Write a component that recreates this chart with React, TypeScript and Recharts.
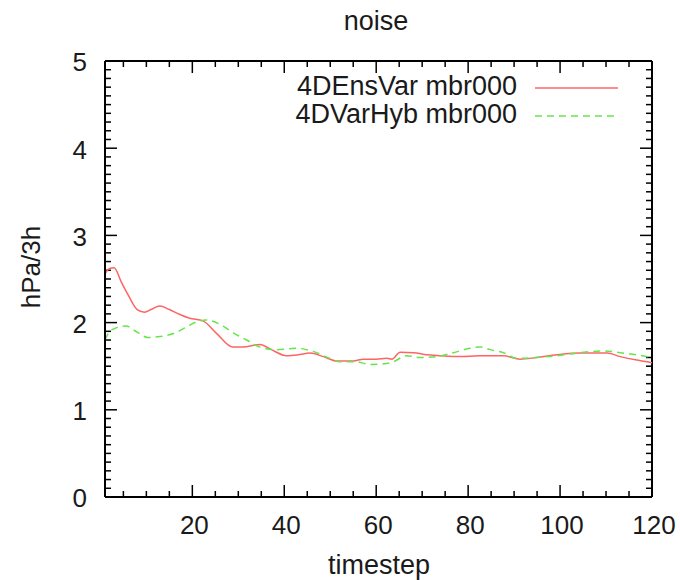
import React from "react";
import { LineChart, Line, XAxis, YAxis, ReferenceLine } from "recharts";

// 4DEnsVar mbr000 (red, solid)
const ensStep = [1, 2, 3, 4.5, 6, 8, 9.6, 11, 12.9, 15, 17, 19.4, 22.3, 25.2, 28.8, 31, 34.7, 37.2, 40.5, 43, 45.6, 48.5, 51.4, 55, 57.2, 60, 62.3, 63.4, 65.2, 68.1, 71, 73.9, 78, 82.6, 87.7, 91.3, 94.9, 99.3, 104.4, 110.2, 113.1, 116.7, 120];
const ensVal = [2.56, 2.62, 2.63, 2.47, 2.32, 2.15, 2.12, 2.15, 2.19, 2.15, 2.1, 2.05, 2.02, 1.88, 1.72, 1.72, 1.75, 1.69, 1.62, 1.63, 1.65, 1.61, 1.56, 1.56, 1.58, 1.58, 1.59, 1.58, 1.66, 1.655, 1.63, 1.62, 1.61, 1.62, 1.62, 1.58, 1.6, 1.63, 1.65, 1.65, 1.61, 1.57, 1.54];

// 4DVarHyb mbr000 (green, dashed)
const hybStep = [1, 2, 3, 5.6, 8, 10.3, 13, 15, 17, 19.4, 21, 23, 26.7, 29, 31.8, 34.7, 38.3, 42.6, 46.3, 49.9, 52.1, 55.7, 58.6, 62.3, 63.7, 66.6, 69.5, 73.2, 76.8, 80.4, 82.6, 84.8, 87.7, 90.6, 94.9, 99.3, 104.4, 109.5, 113.1, 116.7, 120];
const hybVal = [1.8, 1.9, 1.93, 1.96, 1.89, 1.83, 1.84, 1.86, 1.9, 1.97, 2.01, 2.03, 1.96, 1.88, 1.8, 1.72, 1.69, 1.705, 1.67, 1.59, 1.55, 1.55, 1.52, 1.53, 1.55, 1.62, 1.6, 1.61, 1.655, 1.705, 1.72, 1.69, 1.655, 1.59, 1.6, 1.62, 1.655, 1.675, 1.655, 1.63, 1.6];

const xMajor = [20, 40, 60, 80, 100, 120];
const xMinor = [5, 10, 15, 25, 30, 35, 45, 50, 55, 65, 70, 75, 85, 90, 95, 105, 110, 115];
const yMajor = [0, 1, 2, 3, 4, 5];
const yMinor = [0.1, 0.2, 0.3, 0.4, 0.5, 0.6, 0.7, 0.8, 0.9, 1.1, 1.2, 1.3, 1.4, 1.5, 1.6, 1.7, 1.8, 1.9, 2.1, 2.2, 2.3, 2.4, 2.5, 2.6, 2.7, 2.8, 2.9, 3.1, 3.2, 3.3, 3.4, 3.5, 3.6, 3.7, 3.8, 3.9, 4.1, 4.2, 4.3, 4.4, 4.5, 4.6, 4.7, 4.8, 4.9];

const ensData = ensStep.map((t, i) => ({ t, v: ensVal[i] }));
const hybData = hybStep.map((t, i) => ({ t, v: hybVal[i] }));

const X_DOMAIN = [1, 120];
const Y_DOMAIN = [0, 5];

const RED = "#ff6464";
const GREEN = "#66e64d";
const FONT = "'Liberation Sans', Arial, sans-serif";
const INK = "#1a1a1a";
const txt = { fontFamily: FONT, color: INK };

const M = { top: 61, right: 28, bottom: 83, left: 105 };
const W = 680;
const H = 580;
const PLOT_W = W - M.left - M.right;
const PLOT_H = H - M.top - M.bottom;
// tick lengths (px) expressed in data units for the segment reference lines
const X_PX = PLOT_W / (X_DOMAIN[1] - X_DOMAIN[0]);
const Y_PX = PLOT_H / (Y_DOMAIN[1] - Y_DOMAIN[0]);
const MAJOR = 12;
const MINOR = 6;

const series = [
  { name: "4DEnsVar mbr000", color: RED, dash: undefined },
  { name: "4DVarHyb mbr000", color: GREEN, dash: "7 5" },
];

const xLabel = (p: any) => (
  <text x={p.x + 2} y={p.y + 37} textAnchor="middle" fill={INK} fontFamily={FONT} fontSize={26}>{p.payload.value}</text>
);
const yLabel = (p: any) => (
  <text x={p.x - 18} y={p.y} dy="0.4em" textAnchor="end" fill={INK} fontFamily={FONT} fontSize={26}>{p.payload.value}</text>
);

const abs = (left: number, top: number, extra: React.CSSProperties = {}): React.CSSProperties => ({
  position: "absolute", left, top, whiteSpace: "nowrap", lineHeight: 1, ...txt, ...extra,
});

const tickProps = { xAxisId: "b", yAxisId: "l", stroke: "#000", strokeWidth: 1.5, ifOverflow: "visible" as const };

export default function App() {
  const xMarks = [...xMinor, ...xMajor].flatMap((v) => {
    const h = (xMajor.includes(v) ? MAJOR : MINOR) / Y_PX;
    return [
      <ReferenceLine key={"xb" + v} {...tickProps} segment={[{ x: v, y: Y_DOMAIN[0] }, { x: v, y: Y_DOMAIN[0] + h }]} />,
      <ReferenceLine key={"xt" + v} {...tickProps} segment={[{ x: v, y: Y_DOMAIN[1] }, { x: v, y: Y_DOMAIN[1] - h }]} />,
    ];
  });
  const yMarks = [...yMinor, ...yMajor].flatMap((v) => {
    const w = (yMajor.includes(v) ? MAJOR : MINOR) / X_PX;
    return [
      <ReferenceLine key={"yl" + v} {...tickProps} segment={[{ x: X_DOMAIN[0], y: v }, { x: X_DOMAIN[0] + w, y: v }]} />,
      <ReferenceLine key={"yr" + v} {...tickProps} segment={[{ x: X_DOMAIN[1], y: v }, { x: X_DOMAIN[1] - w, y: v }]} />,
    ];
  });
  return (
    <div style={{ position: "absolute", left: 0, top: 0, width: W, height: H, background: "#fff" }}>
      <LineChart width={W} height={H} margin={M}>
        <XAxis xAxisId="b" type="number" dataKey="t" domain={X_DOMAIN} allowDataOverflow height={0.001}
          ticks={xMajor} interval={0} tickSize={0} tickMargin={0} tickLine={false}
          stroke="black" strokeWidth={2} tick={xLabel} />
        <YAxis yAxisId="l" type="number" domain={Y_DOMAIN} allowDataOverflow width={0.001}
          ticks={yMajor} interval={0} tickSize={0} tickMargin={0} tickLine={false}
          stroke="black" strokeWidth={2} tick={yLabel} />
        <ReferenceLine xAxisId="b" yAxisId="l" y={Y_DOMAIN[1]} stroke="black" strokeWidth={2} />
        <ReferenceLine xAxisId="b" yAxisId="l" x={X_DOMAIN[1]} stroke="black" strokeWidth={2} />
        {xMarks}
        {yMarks}
        <Line xAxisId="b" yAxisId="l" data={ensData} dataKey="v" name={series[0].name} type="monotone"
          stroke={RED} strokeWidth={1.5} dot={false} isAnimationActive={false} />
        <Line xAxisId="b" yAxisId="l" data={hybData} dataKey="v" name={series[1].name} type="monotone"
          stroke={GREEN} strokeWidth={1.5} strokeDasharray="7 5" dot={false} isAnimationActive={false} />
      </LineChart>
      <div style={abs(0, 8, { width: 752, textAlign: "center", fontSize: 27 })}>noise</div>
      <div style={abs(0, 552, { width: 758, textAlign: "center", fontSize: 27 })}>timestep</div>
      <div style={{ ...abs(18, 280, { fontSize: 26 }), transform: "translate(0, -50%) rotate(-90deg) translate(-50%, 0)", transformOrigin: "0 0" }}>
        hPa/3h
      </div>
      <div style={{ position: "absolute", left: 270, top: 70, width: 360, height: 60 }}>
        {series.map((s, i) => (
          <div key={s.name} style={{ position: "absolute", left: 0, top: i * 27.5, height: 36, width: 360 }}>
            <span style={abs(0, 3, { width: 247, textAlign: "right", fontSize: 27 })}>{s.name}</span>
            <svg width={100} height={36} style={{ position: "absolute", left: 260, top: 0 }}>
              <line x1={5} x2={88} y1={18} y2={18} stroke={s.color} strokeWidth={1.5} strokeDasharray={s.dash} />
            </svg>
          </div>
        ))}
      </div>
    </div>
  );
}
